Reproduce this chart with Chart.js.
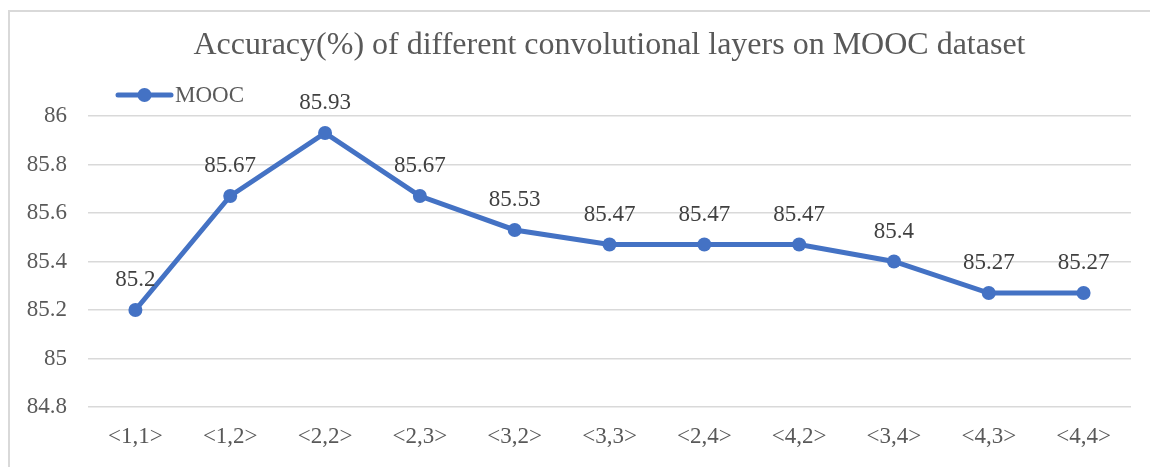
<!DOCTYPE html>
<html>
<head>
<meta charset="utf-8">
<title>MOOC accuracy</title>
<script src="https://cdn.jsdelivr.net/npm/chart.js@4.4.1/dist/chart.umd.min.js"></script>
<style>
    html, body { margin: 0; padding: 0; background: #ffffff; overflow: hidden; }
    #wrap { position: relative; width: 1150px; height: 467px; }
</style>
</head>
<body>
<div id="wrap"><canvas id="chart"></canvas></div>
<script>
// Data
const layers = ['<1,1>', '<1,2>', '<2,2>', '<2,3>', '<3,2>', '<3,3>', '<2,4>', '<4,2>', '<3,4>', '<4,3>', '<4,4>'];
const accuracy = [85.2, 85.67, 85.93, 85.67, 85.53, 85.47, 85.47, 85.47, 85.4, 85.27, 85.27];
const yTicks = [84.8, 85, 85.2, 85.4, 85.6, 85.8, 86];
const seriesName = 'MOOC';
const chartTitle = 'Accuracy(%) of different convolutional layers on MOOC dataset';

const blue = '#4472C4';
const grey = '#595959';
const serif = "'Liberation Serif', 'Times New Roman', serif";

// Bingkai luar (garis atas dan kiri)
const framePlugin = {
    id: 'frame',
    beforeDraw(chart) {
        const ctx = chart.ctx;
        ctx.save();
        ctx.strokeStyle = '#d9d9d9';
        ctx.lineWidth = 2;
        ctx.beginPath();
        ctx.moveTo(9, chart.height);
        ctx.lineTo(9, 11);
        ctx.lineTo(chart.width, 11);
        ctx.stroke();
        ctx.restore();
    }
};

// Legend gaya Excel: garis dengan lingkaran di tengah
const legendPlugin = {
    id: 'lineLegend',
    afterDraw(chart) {
        const ctx = chart.ctx;
        const ds = chart.data.datasets[0];
        const y = 95;
        ctx.save();
        ctx.strokeStyle = ds.borderColor;
        ctx.lineWidth = 5;
        ctx.lineCap = 'round';
        ctx.beginPath();
        ctx.moveTo(118, y);
        ctx.lineTo(171, y);
        ctx.stroke();
        ctx.fillStyle = ds.borderColor;
        ctx.beginPath();
        ctx.arc(144.5, y, 7, 0, Math.PI * 2);
        ctx.fill();
        ctx.fillStyle = grey;
        ctx.font = '23px ' + serif;
        ctx.textBaseline = 'middle';
        ctx.textAlign = 'left';
        ctx.fillText(ds.label, 175, y + 1);
        ctx.restore();
    }
};

// Label nilai di atas setiap titik
const valueLabels = {
    id: 'valueLabels',
    afterDatasetsDraw(chart) {
        const ctx = chart.ctx;
        const meta = chart.getDatasetMeta(0);
        const values = chart.data.datasets[0].data;
        ctx.save();
        ctx.fillStyle = '#404040';
        ctx.font = '23px ' + serif;
        ctx.textAlign = 'center';
        ctx.textBaseline = 'middle';
        meta.data.forEach((pt, i) => {
            ctx.fillText(String(values[i]), pt.x, pt.y - 30);
        });
        ctx.restore();
    }
};

const ctx = document.getElementById('chart').getContext('2d');
new Chart(ctx, {
    type: 'line',
    data: {
        labels: layers,
        datasets: [{
            label: seriesName,
            data: accuracy,
            borderColor: blue,
            backgroundColor: blue,
            borderWidth: 5,
            pointRadius: 7,
            pointHoverRadius: 7,
            pointBorderWidth: 0,
            pointBackgroundColor: blue,
            tension: 0,
            fill: false
        }]
    },
    options: {
        responsive: true,
        maintainAspectRatio: false,
        animation: false,
        layout: {
            padding: { left: 8, right: 19, top: 0, bottom: 20 }
        },
        plugins: {
            legend: { display: false },
            tooltip: { enabled: false },
            title: {
                display: true,
                fullSize: false, // judul di tengah area plot
                text: chartTitle,
                color: grey,
                font: { family: serif, size: 32, weight: 'normal' },
                padding: { top: 26, bottom: 51.6 }
            }
        },
        scales: {
            x: {
                offset: true,
                afterFit(scale) { scale.height = 40; },
                grid: { display: false, drawTicks: false },
                border: { display: false },
                ticks: {
                    color: grey,
                    padding: 16,
                    font: { family: serif, size: 23 },
                    maxRotation: 0,
                    autoSkip: false
                }
            },
            y: {
                min: 84.8,
                max: 86,
                afterFit(scale) { scale.width = 80; },
                afterBuildTicks(scale) {
                    scale.ticks = yTicks.map(v => ({ value: v }));
                },
                grid: { color: '#d9d9d9', lineWidth: 1.5, drawTicks: false },
                border: { display: false },
                ticks: {
                    color: grey,
                    padding: 21,
                    font: { family: serif, size: 23 },
                    callback: v => String(Math.round(v * 10) / 10)
                }
            }
        }
    },
    plugins: [framePlugin, legendPlugin, valueLabels]
});
</script>
</body>
</html>
